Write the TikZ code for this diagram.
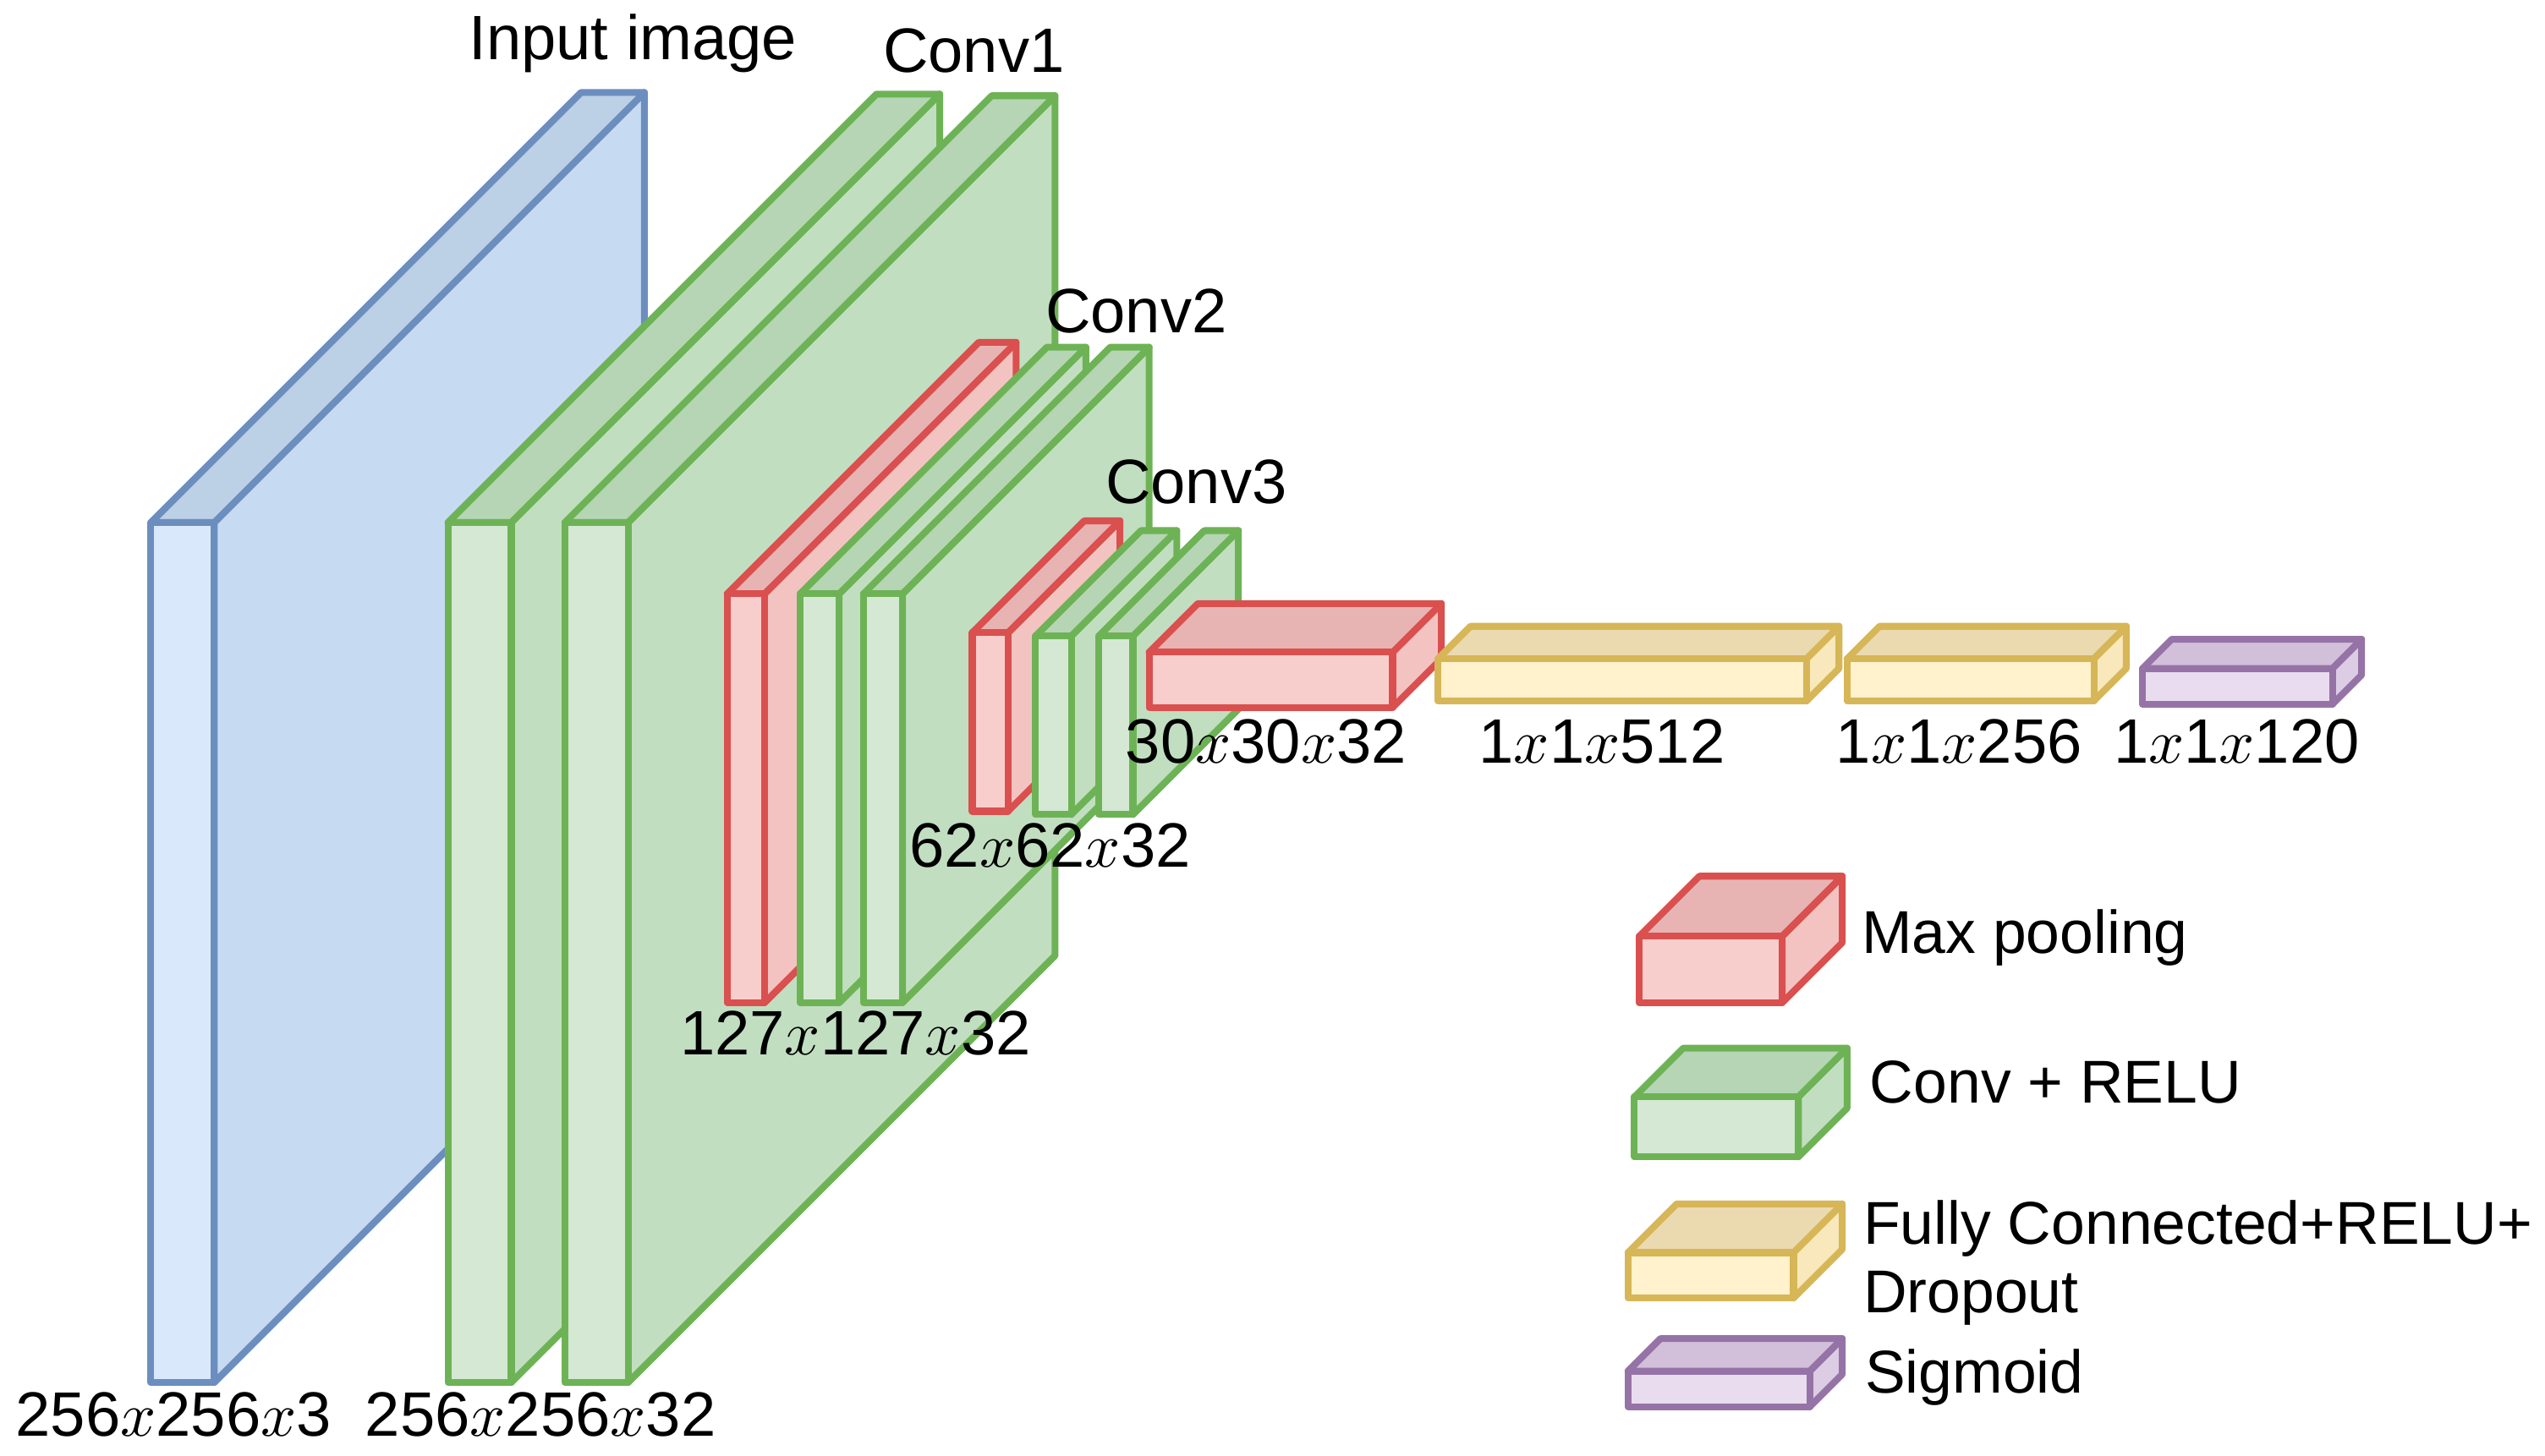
\documentclass[tikz,border=0pt]{standalone}
\usepackage{fontspec}
\setmainfont{Liberation Sans}
\definecolor{blue}{HTML}{6C8EBF}\definecolor{bluefront}{HTML}{DAE8FC}\definecolor{bluetop}{HTML}{BCD0E6}\definecolor{blueside}{HTML}{C6DBF1}
\definecolor{green}{HTML}{6DB356}\definecolor{greenfront}{HTML}{D5E8D4}\definecolor{greentop}{HTML}{B5D5B4}\definecolor{greenside}{HTML}{C2DEC1}
\definecolor{red}{HTML}{D9504F}\definecolor{redfront}{HTML}{F8CECC}\definecolor{redtop}{HTML}{E8B4B3}\definecolor{redside}{HTML}{F3C3C1}
\definecolor{yel}{HTML}{D6B656}\definecolor{yelfront}{HTML}{FFF2CC}\definecolor{yeltop}{HTML}{EBD9B0}\definecolor{yelside}{HTML}{F8E8BC}
\definecolor{pur}{HTML}{9673A6}\definecolor{purfront}{HTML}{E8DCEE}\definecolor{purtop}{HTML}{D2C0DA}\definecolor{purside}{HTML}{DCCCE4}
\newcommand\cub[6]{%
 \draw[#6,fill=#6side] (#3,#2)--({#3+#5},{#2-#5})--({#3+#5},{#4-#5})--(#3,#4)--cycle;
 \draw[#6,fill=#6top] (#1,#2)--({#1+#5},{#2-#5})--({#3+#5},{#2-#5})--(#3,#2)--cycle;
 \draw[#6,fill=#6front] (#1,#2) rectangle (#3,#4);}
\begin{document}
\begin{tikzpicture}[x=0.1mm,y=-0.1mm,line width=0.42mm,line join=round,
 lab/.style={font=\fontsize{11pt}{13pt}\selectfont,inner sep=0pt},
 leg/.style={font=\fontsize{10.6pt}{12.5pt}\selectfont,inner sep=0pt,anchor=west}]
\useasboundingbox (0,0) rectangle (1568,897);
\cub{93}{322}{132}{852}{265}{blue}
\cub{276}{322}{315}{852}{264}{green}
\cub{348}{322}{387}{852}{263}{green}
\cub{448}{366}{471}{618}{155}{red}
\cub{493}{366}{517}{618}{152}{green}
\cub{532}{366}{556}{618}{152}{green}
\cub{599}{390}{621}{500}{69}{red}
\cub{638}{392}{660}{502}{65}{green}
\cub{677}{392}{698}{502}{65}{green}
\cub{708}{402}{858}{436}{30}{red}
\cub{886}{406}{1113}{432}{20}{yel}
\cub{1138}{406}{1290}{432}{20}{yel}
\cub{1320}{412}{1437}{434}{18}{pur}
\node[lab] (t1) at (390,27) {Input image};
\node[lab] (t2) at (600,31) {Conv1};
\node[lab] (t3) at (700,192) {Conv2};
\node[lab] (t4) at (737,297) {Conv3};
\node[lab] (d1) at (107,872) {256$x$256$x$3};
\node[lab] (d2) at (333,872) {256$x$256$x$32};
\node[lab] (d3) at (527,637) {127$x$127$x$32};
\node[lab] (d4) at (647,521) {62$x$62$x$32};
\node[lab] (d5) at (780,457) {30$x$30$x$32};
\node[lab] (d6) at (987,457) {1$x$1$x$512};
\node[lab] (d7) at (1207,457) {1$x$1$x$256};
\node[lab] (d8) at (1378,457) {1$x$1$x$120};
\cub{1010}{577}{1098}{618}{37}{red}
\cub{1007}{676}{1108}{713}{30}{green}
\cub{1003}{772}{1105}{800}{30}{yel}
\cub{1003}{845}{1115}{867}{20}{pur}
\node[leg] (l1) at (1145,578) {Max pooling};
\node[leg] (l2) at (1150,667) {Conv + RELU};
\node[leg] (l3) at (1146,757) {Fully Connected+RELU+};
\node[leg] (l3b) at (1146,800) {Dropout};
\node[leg] (l4) at (1147,849) {Sigmoid};
\end{tikzpicture}
\end{document}
